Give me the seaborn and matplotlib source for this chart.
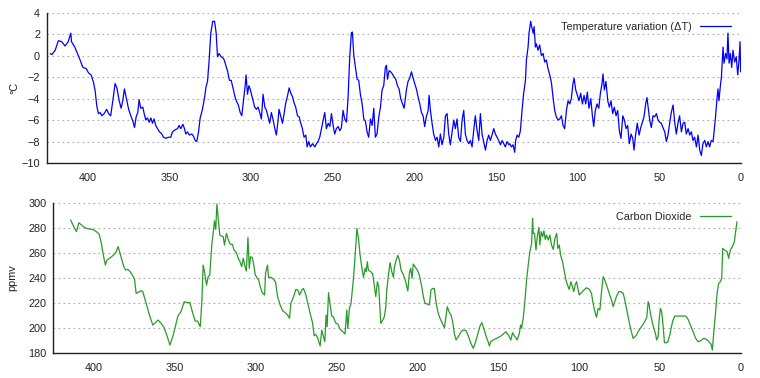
import matplotlib
matplotlib.use("Agg")
import matplotlib.pyplot as plt
import seaborn as sns
import pandas as pd

# ---- Temperature variation (kyr BP, deg C) ----
temp_age = [423, 422, 420, 418, 416, 414, 412, 410.4, 410, 408, 405, 403, 401, 399.6, 398, 396.5, 395.5, 394.5, 393.5, 392.5,
            391.4, 390, 388.4, 387.3, 386, 384.7, 383.3, 382.2, 380.8, 379.6, 378.6, 377.6, 376.5, 375, 373.7, 372.4, 371.4,
            370.4, 369.4, 368.6, 367.6, 366.3, 365.5, 364.5, 363.5, 362.4, 361.4, 360.4, 359.4, 358.4, 357.3, 356.1, 354.7,
            353.7, 352.2, 350.6, 349.2, 348.2, 346.5, 345.1, 344.1, 343.1, 341.8, 340.8, 340, 339, 337.8, 336.3, 335.3, 334.3,
            333.3, 332.2, 331.2, 329.8, 328.6, 327.6, 326.7, 325.7, 324.7, 323.5, 322.4, 321.4, 320.6, 319.6, 318.4, 317.3,
            316.5, 315.5, 314.5, 313.3, 312.2, 310.8, 309.8, 308.8, 307.8, 306.7, 305.7, 304.7, 303.7, 303.1, 302.2, 301.4,
            300.6, 299.8, 298.8, 297.8, 296.7, 295.7, 294.7, 293.7, 292.7, 291.6, 290.6, 289.6, 288.6, 287.6, 286.5, 285.5,
            284.5, 283.5, 282.9, 281.8, 280.8, 279.8, 278.8, 277.8, 276.7, 275.7, 274.7, 273.7, 272.7, 271.6, 270.6, 269.6,
            268.6, 267.6, 266.5, 265.7, 264.7, 263.7, 262.4, 261.0, 260.0, 259.0, 258.0, 256.9, 255.9, 254.9, 253.9, 252.8,
            251.8, 250.8, 249.8, 248.8, 247.8, 246.7, 245.7, 244.7, 243.7, 242.7, 241.6, 240.6, 239.6, 238.6, 238.0, 237.1,
            236.1, 235.1, 234.1, 233.1, 232.0, 231.0, 230.0, 229.0, 228.0, 226.9, 225.9, 224.9, 223.9, 222.9, 221.8, 220.8,
            219.8, 218.8, 217.8, 217.1, 216.5, 215.5, 214.5, 213.5, 212.4, 211.4, 210.4, 209.4, 208.4, 207.3, 206.3, 205.7,
            204.9, 203.9, 202.9, 201.8, 200.8, 199.8, 198.8, 197.8, 196.7, 195.7, 194.7, 193.7, 192.7, 191.6, 191.0, 190.2,
            189.2, 188.2, 187.1, 186.1, 185.1, 184.1, 183.1, 182.0, 181.0, 180.0, 179.0, 178.0, 176.9, 175.9, 174.9, 173.9,
            172.9, 171.8, 170.8, 169.8, 168.8, 167.8, 166.7, 165.7, 164.7, 163.7, 162.7, 161.6, 160.6, 159.6, 158.6, 157.6,
            156.5, 155.5, 154.5, 153.5, 152.5, 151.4, 150.4, 149.4, 148.4, 147.3, 146.3, 145.3, 144.3, 143.3, 142.2, 141.6,
            140.6, 139.6, 138.6, 138.0, 137.1, 136.1, 135.1, 134.1, 133.1, 132.0, 131.4, 130.4, 129.8, 128.8, 128.2, 127.3,
            126.7, 125.9, 125.3, 124.3, 123.3, 122.2, 121.2, 120.2, 119.2, 118.2, 117.1, 116.1, 115.1, 114.1, 113.1, 112.0,
            111.0, 110.0, 109.0, 108.0, 106.9, 105.9, 104.9, 103.9, 102.9, 102.2, 101.2, 100.2, 99.2, 98.2, 97.1, 96.1,
            95.1, 94.1, 93.1, 92.0, 91.0, 90.2, 89.2, 88.2, 87.1, 86.1, 85.1, 84.5, 83.7, 82.7, 81.6, 80.6, 79.6, 78.6,
            77.6, 76.5, 75.5, 74.5, 73.5, 72.4, 71.4, 70.4, 69.4, 68.4, 67.3, 66.3, 65.5, 64.5, 63.5, 62.4, 61.4, 60.4,
            59.4, 58.4, 57.6, 56.9, 55.9, 54.9, 53.9, 52.9, 51.8, 50.8, 49.8, 48.8, 47.8, 46.7, 45.7, 44.7, 43.7, 42.7,
            41.6, 40.6, 39.6, 38.6, 37.6, 36.5, 35.5, 34.5, 33.5, 32.4, 31.4, 30.4, 29.4, 28.4, 27.3, 26.3, 25.3, 24.3,
            23.3, 22.2, 21.2, 20.2, 19.2, 18.2, 17.1, 16.7, 15.7, 14.7, 14.1, 13.5, 12.7, 12.0, 11.4, 11.0, 10.4, 9.4,
            8.6, 8.0, 7.3, 6.5, 5.7, 4.9, 3.9, 2.9, 2.0, 1.2, 0.6, 0.2, 0.0]
temp_val = [0.2, 0.1, 0.5, 1.4, 1.3, 0.9, 1.3, 2.1, 1.3, 0.8, -0.3, -1.1, -1.2, -1.6, -1.8, -2.5, -3.3, -4.7, -5.4, -5.3,
            -5.6, -5.4, -5.0, -5.4, -5.6, -4.2, -2.6, -3.0, -4.2, -4.9, -4.2, -3.1, -3.9, -5.0, -5.6, -6.1, -6.7,
            -5.7, -5.3, -4.1, -4.9, -4.8, -5.4, -6.0, -5.8, -6.2, -5.8, -6.3, -5.9, -6.5, -6.8, -7.1, -7.3,
            -7.6, -7.7, -7.6, -7.6, -7.1, -6.9, -6.8, -6.5, -6.8, -6.4, -6.8, -7.3, -7.1, -7.4, -7.3, -7.5, -7.9,
            -8.0, -7.1, -5.8, -5.0, -4.0, -2.9, -2.4, -0.4, 2.1, 3.2, 3.2, 2.1, -0.1, 0.2, -0.1, -0.2,
            -0.4, -0.9, -1.4, -2.3, -2.3, -3.2, -3.9, -4.3, -4.6, -5.3, -5.6, -4.2, -2.9, -1.8, -3.6, -2.8,
            -3.1, -3.6, -4.2, -4.8, -5.0, -4.8, -5.3, -5.9, -3.6, -4.8, -5.1, -5.7, -6.3, -5.3, -6.0, -6.8,
            -7.4, -6.0, -5.0, -5.7, -6.3, -5.4, -4.4, -3.8, -3.0, -3.5, -3.8, -4.4, -4.8, -5.6, -5.7, -6.3,
            -6.8, -7.6, -7.4, -8.5, -8.0, -8.5, -8.2, -8.5, -8.2, -8.0, -7.6, -6.8, -6.0, -5.3, -6.8, -6.3,
            -6.6, -5.4, -6.5, -7.3, -6.8, -6.6, -7.0, -6.7, -5.1, -5.9, -6.2, -3.8, -0.1, 2.1, 2.2, 0.0,
            -1.1, -2.2, -2.3, -3.6, -4.5, -5.9, -6.1, -7.1, -7.6, -5.9, -6.5, -4.9, -7.6, -7.3, -5.7, -4.8,
            -3.2, -2.8, -1.1, -0.9, -2.2, -1.4, -1.5, -1.7, -2.0, -2.2, -2.8, -3.1, -4.0, -4.5, -4.9, -4.2,
            -3.2, -2.4, -2.1, -1.5, -2.1, -2.6, -3.1, -3.8, -4.5, -5.3, -5.6, -6.6, -5.7, -5.1, -3.7, -5.1,
            -6.3, -7.3, -7.9, -7.6, -8.5, -7.3, -8.3, -7.6, -5.6, -5.4, -7.3, -8.3, -7.1, -6.0, -6.8, -5.9,
            -7.6, -8.0, -6.0, -5.1, -7.3, -7.9, -8.2, -7.9, -8.5, -7.0, -5.6, -7.0, -7.9, -5.4, -7.3, -8.0,
            -8.8, -7.9, -7.4, -7.9, -7.4, -6.8, -7.3, -7.6, -7.9, -8.3, -7.9, -8.2, -8.5, -8.0, -8.3, -8.2,
            -8.5, -8.3, -9.0, -7.9, -7.4, -7.6, -7.0, -5.1, -3.5, -2.3, -0.4, 0.8, 2.1, 3.2, 2.7, 2.1,
            2.7, 0.8, 1.1, 0.5, 1.0, 0.0, 0.2, -0.6, -0.4, -1.2, -1.8, -2.5, -3.9, -5.1, -5.7, -6.0,
            -5.9, -5.6, -6.5, -6.8, -5.1, -4.2, -4.5, -4.0, -2.6, -2.1, -3.2, -3.7, -4.2, -3.5, -4.5, -3.7,
            -4.5, -3.4, -4.9, -4.0, -5.6, -6.6, -5.1, -4.5, -4.9, -3.5, -2.6, -1.7, -3.2, -2.4, -4.2, -4.8, -4.2, -5.4,
            -4.8, -5.6, -5.1, -7.0, -7.7, -5.6, -6.0, -6.8, -6.5, -8.2, -7.3, -7.7, -8.8, -7.3, -6.3, -7.4, -6.7, -6.2,
            -5.7, -4.5, -3.9, -4.8, -6.0, -6.7, -5.6, -5.7, -5.4, -6.0, -6.2, -6.3, -6.7, -7.1, -8.0, -7.4, -6.3, -5.3,
            -4.6, -6.2, -7.3, -6.3, -5.6, -7.1, -6.3, -6.2, -7.3, -6.8, -7.4, -7.1, -7.9, -7.6, -8.5, -7.4, -8.8, -9.3,
            -8.2, -7.9, -8.5, -8.0, -8.5, -7.9, -8.0, -7.4, -5.9, -4.0, -3.1, -4.2, -2.9, -2.0, -0.3, 0.8, -0.7, 0.2,
            -0.3, 2.1, -0.7, 0.2, -1.1, 0.5, -0.6, -0.1, -1.8, -0.4, 1.3, -1.5, -1.0]

# ---- Carbon dioxide (kyr BP, ppmv) ----
co2_age = [414.3, 412.3, 410.7, 409.2, 407.6, 405.5, 403.5, 400.8, 398.4, 396.7, 395.3, 393.9, 392.8, 391.8, 390.2, 388.5,
           387.1, 386.1, 385.0, 384.0, 382.6, 381.4, 380.3, 378.9, 377.5, 375.8, 374.8, 373.8, 372.1, 370.7, 369.7, 367.6,
           365.6, 363.5, 361.9, 360.2, 358.4, 356.6, 354.9, 352.9, 351.2, 349.6, 348.0, 346.1, 344.1, 342.4, 340.6, 338.9,
           337.3, 335.9, 334.2, 333.2, 332.4, 331.4, 330.3, 329.3, 328.3, 327.0, 326.2, 325.4, 324.6, 323.9, 323.1, 322.1,
           321.1, 320.0, 319.2, 318.0, 316.8, 315.7, 314.3, 313.3, 311.9, 310.7, 309.6, 308.6, 307.6, 306.6, 305.7, 304.7,
           303.9, 303.1, 302.0, 301.0, 300.2, 299.2, 298.1, 297.1, 296.1, 295.1, 294.4, 293.8, 292.6, 292.0, 290.5, 288.9,
           287.7, 286.4, 284.8, 283.3, 281.7, 280.2, 279.0, 278.2, 276.5, 275.1, 273.9, 272.8, 271.4, 270.4, 268.9, 267.7,
           266.3, 264.8, 263.8, 262.8, 261.5, 260.1, 259.1, 258.0, 257.2, 256.4, 255.8, 254.9, 253.9, 252.9, 251.9, 250.6,
           249.2, 247.7, 246.1, 244.7, 243.6, 243.0, 242.0, 241.0, 239.5, 238.5, 237.4, 236.4, 235.4, 234.4, 233.3, 232.3,
           231.7, 230.9, 230.3, 228.8, 227.6, 226.5, 225.7, 224.7, 223.9, 222.6, 221.4, 220.4, 219.5, 218.9, 217.9, 216.9,
           215.8, 214.8, 214.2, 213.1, 212.1, 211.1, 210.1, 208.6, 207.2, 205.9, 204.9, 204.1, 203.3, 202.5, 201.2, 200.0,
           198.8, 197.3, 196.3, 195.3, 193.8, 192.6, 191.6, 190.5, 189.5, 188.5, 187.4, 186.0, 184.6, 183.3, 182.5, 181.5,
           180.5, 179.2, 178.2, 177.2, 176.1, 174.7, 173.0, 171.6, 169.9, 168.5, 167.1, 165.4, 164.0, 162.8, 161.3, 160.1,
           158.8, 157.6, 156.3, 155.5, 154.7, 153.1, 151.0, 149.0, 146.9, 145.3, 143.8, 142.2, 141.2, 139.7, 138.3, 137.0,
           136.2, 135.6, 134.6, 133.5, 132.5, 131.5, 130.5, 129.4, 128.8, 128.4, 127.6, 126.7, 125.9, 124.9, 124.3, 123.5,
           122.6, 121.8, 121.0, 120.2, 119.1, 118.1, 117.1, 116.0, 115.0, 113.9, 113.2, 112.3, 111.5, 110.3, 109.3, 108.2,
           107.2, 106.2, 105.1, 104.1, 103.3, 102.5, 101.6, 100.8, 100.0, 98.6, 97.1, 95.5, 93.8, 92.4, 91.4, 90.3, 89.3,
           88.3, 87.2, 86.2, 85.2, 84.2, 83.1, 82.1, 81.1, 80.0, 79.0, 78.0, 77.0, 75.5, 74.3, 72.8, 71.8, 70.8, 69.8,
           68.7, 67.7, 66.7, 65.6, 64.6, 63.6, 62.6, 60.9, 59.5, 58.2, 57.4, 56.8, 56.0, 54.9, 53.9, 52.9, 52.1, 51.2,
           50.6, 49.8, 49.0, 48.1, 47.3, 46.1, 45.1, 44.0, 43.0, 42.0, 40.9, 39.9, 37.9, 35.8, 34.2, 32.7, 31.3, 29.6,
           28.0, 26.5, 24.9, 23.0, 21.4, 19.8, 18.5, 17.7, 16.7, 15.6, 14.8, 13.8, 12.8, 11.9, 11.3, 10.1, 8.6, 7.6,
           6.6, 5.3, 4.1, 3.3, 2.5]
co2_val = [286.2, 280.8, 276.9, 284.0, 282.2, 280.0, 279.2, 278.7, 276.9, 275.0, 267.5, 256.9, 250.2, 254.2, 255.6, 257.4,
           259.0, 260.9, 264.9, 260.9, 254.2, 248.9, 246.2, 246.8, 244.9, 241.5, 238.8, 227.6, 228.7, 229.8, 229.0, 219.6,
           210.3, 202.3, 204.2, 206.3, 203.7, 200.5, 194.4, 186.4, 193.0, 201.0, 209.5, 213.0, 221.0, 220.2, 220.2, 212.2,
           205.5, 205.5, 201.0, 221.0, 250.2, 243.6, 234.3, 240.9, 242.3, 267.5, 275.5, 285.6, 278.7, 298.9, 287.5, 274.2,
           273.4, 272.9, 266.2, 275.5, 270.2, 267.0, 266.7, 262.2, 260.1, 255.6, 252.9, 248.9, 255.6, 249.4, 245.4, 272.3,
           247.6, 256.9, 256.1, 249.4, 242.3, 240.4, 238.3, 232.9, 229.0, 227.1, 226.3, 244.1, 250.2, 240.4, 240.4, 238.8,
           236.9, 225.0, 218.3, 213.8, 212.2, 210.3, 207.7, 219.6, 225.0, 230.8, 230.3, 226.3, 230.3, 231.6, 226.3, 219.6,
           211.7, 204.2, 193.8, 194.9, 191.7, 185.6, 198.4, 193.0, 189.0, 210.3, 201.0, 228.2, 218.3, 209.5, 209.0, 204.2,
           203.1, 198.9, 197.0, 195.2, 214.3, 199.5, 215.6, 219.6, 239.6, 256.9, 279.5, 271.5, 258.2, 248.9, 240.4, 247.6,
           244.9, 252.9, 246.2, 244.9, 243.1, 232.9, 225.0, 236.9, 232.9, 203.7, 206.3, 209.0, 217.0, 230.3, 242.3, 252.1,
           244.9, 240.4, 248.4, 254.2, 258.0, 254.2, 246.2, 242.3, 236.9, 229.5, 244.1, 247.6, 239.6, 251.0, 248.4, 246.2,
           242.3, 232.9, 225.0, 219.6, 219.1, 218.3, 230.3, 231.6, 231.4, 221.0, 213.0, 207.7, 203.7, 200.2, 207.7, 217.0,
           213.0, 210.3, 205.0, 195.7, 190.4, 193.0, 197.0, 198.4, 197.8, 193.6, 188.2, 183.7, 189.0, 194.4, 201.5, 204.2,
           198.9, 193.6, 189.0, 185.6, 189.0, 190.4, 191.7, 193.0, 195.2, 197.0, 194.4, 190.4, 196.2, 193.0, 190.4, 195.7,
           202.3, 199.7, 207.7, 222.3, 238.3, 250.2, 260.9, 267.5, 287.5, 275.5, 275.5, 262.2, 272.9, 280.3, 266.2, 276.9,
           272.9, 277.6, 270.7, 274.2, 270.2, 274.2, 266.2, 262.7, 271.5, 275.5, 263.5, 266.2, 258.2, 252.9, 246.2, 238.3,
           234.3, 230.8, 236.9, 232.9, 229.0, 234.3, 236.9, 231.6, 226.3, 228.2, 230.3, 232.1, 230.8, 227.6, 219.6, 213.0, 208.5,
           215.6, 214.3, 229.0, 240.9, 238.3, 234.3, 230.3, 226.3, 222.3, 217.0, 221.0, 225.0, 229.0, 229.0, 227.6, 222.3, 215.6, 209.0,
           202.3, 197.0, 191.7, 193.0, 194.4, 197.0, 198.9, 202.3, 205.0, 208.5, 221.0, 218.4, 211.7, 205.0, 199.7, 195.7, 190.4, 193.0,
           206.3, 215.6, 213.0, 201.0, 188.2, 188.2, 189.0, 194.4, 201.0, 206.3, 209.5, 209.5, 209.5, 209.5, 209.5, 206.9, 202.3, 197.0,
           191.7, 189.0, 189.8, 191.7, 190.9, 189.0, 186.9, 182.4, 198.4, 214.3, 227.6, 235.6, 236.9, 239.6, 263.5, 262.2, 260.9, 255.6,
           262.2, 264.9, 268.9, 276.9, 284.8]

temp_ticks = [-10, -8, -6, -4, -2, 0, 2, 4]
co2_ticks = [180, 200, 220, 240, 260, 280, 300]
age_ticks = [400, 350, 300, 250, 200, 150, 100, 50, 0]

temp_df = pd.DataFrame({"age": temp_age, "val": temp_val})
co2_df = pd.DataFrame({"age": co2_age, "val": co2_val})

sns.set_theme(style="white")
plt.rcParams["font.family"] = ["Liberation Sans", "DejaVu Sans"]
plt.rcParams["axes.unicode_minus"] = True

FS = 7.8
fig = plt.figure(figsize=(7.6, 3.78), dpi=100)
ax1 = fig.add_axes([47 / 760, 1 - 163 / 378, 694 / 760, 150.3 / 378])
ax2 = fig.add_axes([53.3 / 760, 1 - 353 / 378, 687.7 / 760, 150.3 / 378])

sns.lineplot(data=temp_df, x="age", y="val", ax=ax1, color="#0000ff", linewidth=0.9,
             estimator=None, label="Temperature variation (ΔT)")
sns.lineplot(data=co2_df, x="age", y="val", ax=ax2, color="#2a9a2a", linewidth=0.9,
             estimator=None, label="Carbon Dioxide")

for ax, yt, lab, lx in [(ax1, temp_ticks, "°C", -0.040), (ax2, co2_ticks, "ppmv", -0.052)]:
    ax.set_xlim(425, 0)
    ax.set_ylim(yt[0], yt[-1])
    ax.set_xticks(age_ticks)
    ax.set_yticks(yt)
    ax.set_xlabel("")
    ax.set_ylabel(lab, fontsize=FS, color="#222222")
    ax.yaxis.set_label_coords(lx, 0.5)
    for s in ["top", "right"]:
        ax.spines[s].set_visible(False)
    for s in ["left", "bottom"]:
        ax.spines[s].set_color("#222222")
        ax.spines[s].set_linewidth(1.0)
    ax.yaxis.grid(True, linestyle=(0, (1.5, 3)), color="#aaaaaa", linewidth=0.8)
    ax.xaxis.grid(False)
    ax.tick_params(axis="x", direction="in", length=5, width=0.8, pad=7, labelsize=FS, colors="#222222")
    ax.tick_params(axis="y", direction="in", length=3, width=0.8, pad=5, labelsize=FS, colors="#222222")
    ax.legend(loc="upper right", frameon=False, markerfirst=False, fontsize=FS,
              handlelength=2.9, borderaxespad=0.3, bbox_to_anchor=(0.997, 0.99))

fig.savefig("out.png", dpi=100)
